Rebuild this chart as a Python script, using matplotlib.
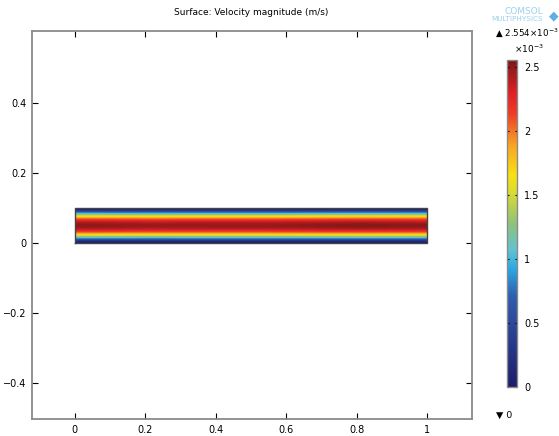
import numpy as np
import matplotlib
matplotlib.use('Agg')
import matplotlib.pyplot as plt
from matplotlib.colors import LinearSegmentedColormap

# velocity magnitude across the channel height (x1e-3 m/s)
y_pts = [0.0, 0.01, 0.02, 0.03, 0.04, 0.05, 0.06, 0.07, 0.08, 0.09, 0.1]
u_profile = [0.0, 0.92, 1.63, 2.14, 2.45, 2.53, 2.45, 2.14, 1.63, 0.92, 0.0]
# slight change along the channel length
x_pts = [0.0, 0.05, 0.2, 0.5, 0.8, 0.93, 0.97, 1.0]
x_factor = [1.0, 0.985, 0.99, 0.99, 0.99, 1.0, 1.01, 1.0]
u_max = 2.554
u_min = 0

field = np.outer(u_profile, x_factor)

# COMSOL-like rainbow
cmap = LinearSegmentedColormap.from_list('comsol', [
    (0.0, '#1c1c6a'), (0.18, '#2c4496'), (0.28, '#2f5fb0'),
    (0.36, '#2aa8e4'), (0.42, '#62c2d0'), (0.5, '#8fc27a'),
    (0.6, '#dcdc2c'), (0.65, '#f8e012'), (0.74, '#f8a422'),
    (0.84, '#ee3a26'), (0.9, '#e02024'), (1.0, '#7a1818')])

fig = plt.figure(figsize=(5.59, 4.36), dpi=100)
ax = fig.add_axes([0.0572, 0.039, 0.7872, 0.8899])

im = ax.imshow(field, cmap=cmap, vmin=u_min, vmax=u_max, origin='lower',
               extent=[x_pts[0], x_pts[-1], y_pts[0], y_pts[-1]],
               aspect='auto', interpolation='bicubic')
ax.plot([0, 1, 1, 0, 0], [0, 0, 0.1, 0.1, 0], color='#444444', lw=1.0)

ax.set_xlim(-0.122, 1.128)
ax.set_ylim(-0.503, 0.606)
ax.set_xticks([0, 0.2, 0.4, 0.6, 0.8, 1])
ax.set_xticklabels(['0', '0.2', '0.4', '0.6', '0.8', '1'])
ax.set_yticks([-0.4, -0.2, 0, 0.2, 0.4])
ax.set_yticklabels(['\u22120.4', '\u22120.2', '0', '0.2', '0.4'])
ax.tick_params(direction='in', top=True, right=True, labelsize=7,
               length=4, width=0.8, colors='black', pad=4)
for s in ax.spines.values():
    s.set_color('#8a8a8a')
    s.set_linewidth(1.3)

fig.text(0.449, 0.972, 'Surface: Velocity magnitude (m/s)', ha='center',
         va='center', fontsize=6.5)

cax = fig.add_axes([0.907, 0.1124, 0.018, 0.75])
cb = fig.colorbar(im, cax=cax)
cb.set_ticks([0, 0.5, 1, 1.5, 2, 2.5])
cb.set_ticklabels(['0', '0.5', '1', '1.5', '2', '2.5'])
cax.tick_params(direction='in', left=True, right=True, labelsize=7,
                length=1.5, width=0.8, pad=5)
cb.outline.set_edgecolor('#8a8a8a')
cb.outline.set_linewidth(1.0)

fig.text(0.946, 0.888, '\u00d710$^{-3}$', ha='center', va='center', fontsize=6.5)
fig.text(0.886, 0.925, '\u25b2 2.554\u00d710$^{-3}$', ha='left', va='center',
         fontsize=6.3)
fig.text(0.887, 0.048, '\u25bc 0', ha='left', va='center', fontsize=6.8)

# logo text
fig.text(0.972, 0.974, 'COMSOL', ha='right', va='center', fontsize=6.5,
         color='#9cd0ec')
fig.text(0.972, 0.957, 'MULTIPHYSICS', ha='right', va='center', fontsize=5.2,
         color='#9cd0ec')
fig.text(0.99, 0.964, '\u25c6', ha='center', va='center', fontsize=9,
         color='#5fb0e0')

fig.savefig('out.png', dpi=100)
